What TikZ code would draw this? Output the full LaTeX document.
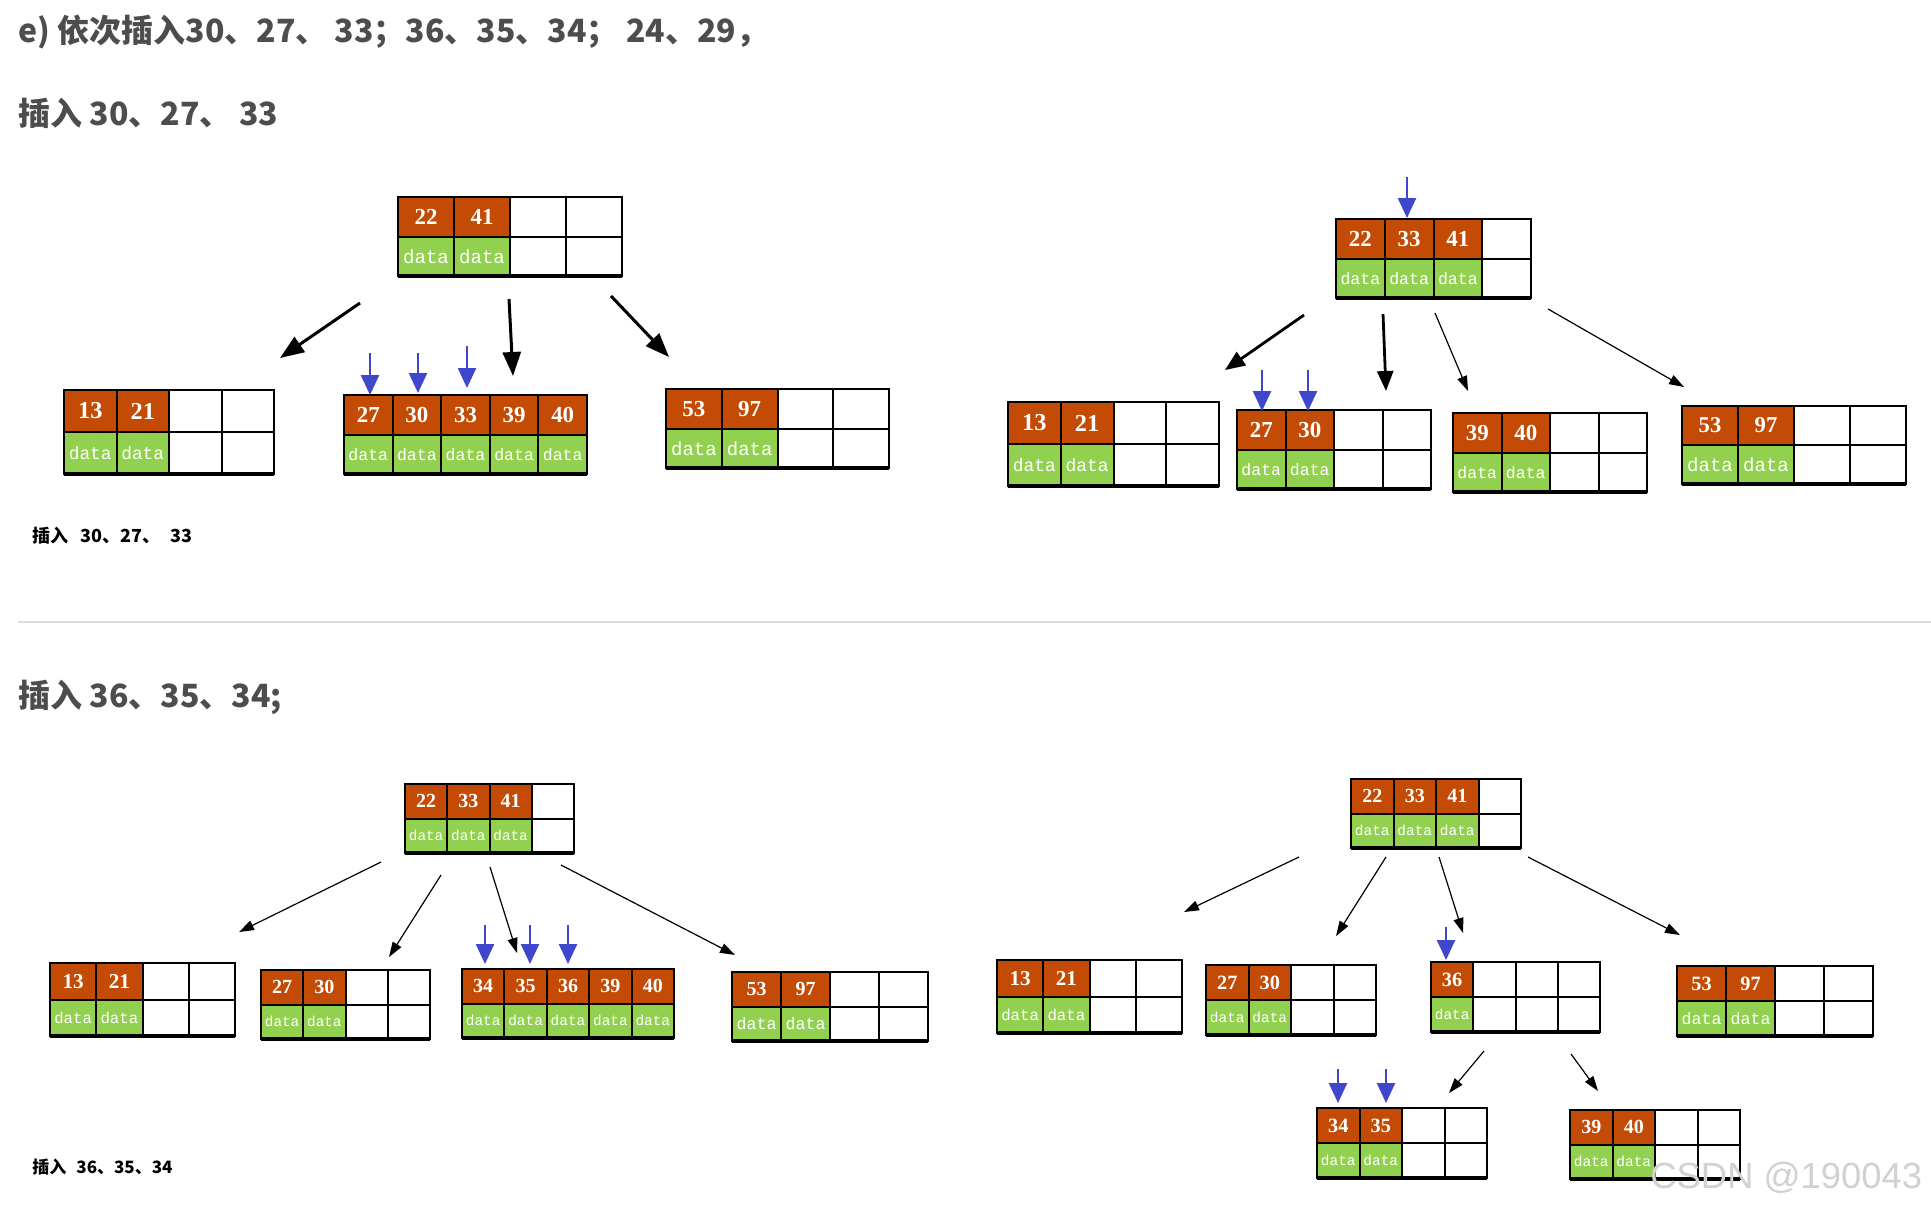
\documentclass[tikz,border=0pt]{standalone}
\usepackage{fontspec}
\usetikzlibrary{arrows.meta}
\newfontfamily\cjk{Noto Sans CJK SC}
\newfontfamily\keyfont{Liberation Serif}
\newfontfamily\datafont{Liberation Mono}
\newfontfamily\wmfont{Liberation Sans}
\definecolor{korange}{RGB}{195,75,5}
\definecolor{kgreen}{RGB}{146,208,80}
\definecolor{kblue}{RGB}{63,72,204}
\definecolor{headgray}{RGB}{77,77,77}
\tikzset{
  boxline/.style={draw, line width=1pt, inner sep=0pt, outer sep=0pt},
  cellline/.style={line width=1pt},
  keytxt/.style={text=white, inner sep=0pt},
  datatxt/.style={text=white, inner sep=0pt},
  bigarrow/.style={line width=1.5pt, -{Triangle[length=12pt,width=9pt]}},
  medarrow/.style={line width=1.4pt, -{Triangle[length=10pt,width=8pt]}},
  thinarrow/.style={line width=0.6pt, -{Triangle[length=7.5pt,width=5pt]}},
  bluearrow/.style={kblue, line width=1.2pt, -{Triangle[length=10pt,width=9pt]}},
  head/.style={font=\cjk\bfseries\fontsize{16}{16}\selectfont, text=headgray, inner sep=0pt},
  smalllabel/.style={font=\cjk\bfseries\fontsize{9}{9}\selectfont, text=black, inner sep=0pt},
}
% #1 name, #2 x left, #3 y top, #4 cell width, #5 row height, #6 columns, #7 keys
\newcommand\btnode[7]{%
  \pgfmathsetmacro\kfs{0.29*#5}%
  \pgfmathsetmacro\dfs{0.17*#4}%
  \foreach \k [count=\i from 0] in {#7} {%
    \fill[korange] ({#2+\i*#4},#3) rectangle ++(#4,#5);
    \fill[kgreen] ({#2+\i*#4},{#3+#5}) rectangle ++(#4,#5);
    \node[keytxt, font={\keyfont\bfseries\fontsize{\kfs}{\kfs}\selectfont}] (#1-k\i) at ({#2+(\i+0.5)*#4},{#3+0.5*#5}) {\k};
    \node[datatxt, font={\datafont\fontsize{\dfs}{\dfs}\selectfont}] (#1-d\i) at ({#2+(\i+0.5)*#4},{#3+1.5*#5}) {data};
  }%
  \foreach \j in {1,...,#6} \draw[cellline] ({#2+\j*#4},#3) -- ++(0,{2*#5});
  \draw[cellline] (#2,{#3+#5}) -- ++({#6*#4},0);
  \node[boxline, minimum width={#6*#4*0.5pt}, minimum height={#5*1pt}, anchor=north west] (#1) at (#2,#3) {};
  \draw[line width=2pt] (#1.south west) -- (#1.south east);
}
% #1 style, #2 name, #3 #4 start, #5 #6 end
\newcommand\arr[6]{%
  \coordinate (#2-s) at (#3,#4);
  \coordinate (#2-e) at (#5,#6);
  \draw[#1] (#2-s) -- (#2-e);
}
\begin{document}
\begin{tikzpicture}[x=0.5pt, y=-0.5pt]
\fill[white] (0,0) rectangle (1931,1207);
\useasboundingbox (0,0) rectangle (1931,1207);

% headings
\node[head, anchor=base west] (t1) at (18,42) {e) 依次插入30、27、 33；36、35、34； 24、29，};
\node[head, anchor=base west] (t2) at (18,125) {插入 30、27、 33};
\node[head, anchor=base west] (t3) at (18,707) {插入 36、35、34;};

% ---------- section 1, left ----------
\btnode{aR}{398}{197}{56}{39.5}{4}{22,41}
\btnode{aL1}{64}{390}{52.5}{42}{4}{13,21}
\btnode{aL2}{344}{395}{48.6}{39.5}{5}{27,30,33,39,40}
\btnode{aL3}{666}{389}{55.75}{39.5}{4}{53,97}
\arr{bigarrow}{aA1}{360}{303}{280}{358}
\arr{bigarrow}{aA2}{509}{299}{513}{376}
\arr{bigarrow}{aA3}{611}{296}{669}{357}
\arr{bluearrow}{aB1}{370}{353}{370}{395}
\arr{bluearrow}{aB2}{418}{353}{418}{393}
\arr{bluearrow}{aB3}{467}{346}{467}{388}
\node[smalllabel, anchor=base west] (lab1) at (32,542) {插入\hspace{6pt}30、27、\hspace{5pt}33};

% ---------- section 1, right ----------
\btnode{bR}{1336}{219}{48.75}{39.5}{4}{22,33,41}
\btnode{bL1}{1008}{402}{52.75}{42}{4}{13,21}
\btnode{bL2}{1237}{410}{48.5}{39.5}{4}{27,30}
\btnode{bL3}{1453}{413}{48.5}{39.5}{4}{39,40}
\btnode{bL4}{1682}{406}{56}{39}{4}{53,97}
\arr{bluearrow}{bB1}{1407}{177}{1407}{218}
\arr{bluearrow}{bB2}{1262}{370}{1262}{411}
\arr{bluearrow}{bB3}{1308}{370}{1308}{411}
\arr{medarrow}{bA1}{1304}{315}{1225}{370}
\arr{medarrow}{bA2}{1383}{314}{1386}{391}
\arr{thinarrow}{bA3}{1435}{313}{1468}{391}
\arr{thinarrow}{bA4}{1548}{309}{1684}{387}

% separator
\coordinate (sepL) at (18,622);
\coordinate (sepR) at (1931,622);
\draw[black!14, line width=1pt] (sepL) -- (sepR);

% ---------- section 2, left ----------
\btnode{cR}{405}{784}{42.25}{34.5}{4}{22,33,41}
\btnode{cL1}{50}{963}{46.25}{36.5}{4}{13,21}
\btnode{cL2}{261}{970}{42.25}{34.5}{4}{27,30}
\btnode{cL3}{462}{969}{42.4}{34.5}{5}{34,35,36,39,40}
\btnode{cL4}{732}{972}{49}{34.5}{4}{53,97}
\arr{thinarrow}{cA1}{381}{862}{239}{932}
\arr{thinarrow}{cA2}{441}{875}{389}{957}
\arr{thinarrow}{cA3}{490}{867}{517}{953}
\arr{thinarrow}{cA4}{561}{865}{735}{955}
\arr{bluearrow}{cB1}{485}{925}{485}{964}
\arr{bluearrow}{cB2}{530}{925}{530}{964}
\arr{bluearrow}{cB3}{568}{925}{568}{964}
\node[smalllabel, font=\cjk\bfseries\fontsize{8.5}{8.5}\selectfont, anchor=base west] (lab2) at (32,1173) {插入\hspace{5pt}36、35、34};

% ---------- section 2, right ----------
\btnode{dR}{1351}{779}{42.5}{34.5}{4}{22,33,41}
\btnode{dL1}{997}{960}{46.25}{36.5}{4}{13,21}
\btnode{dL2}{1206}{965}{42.5}{35}{4}{27,30}
\btnode{dL3}{1431}{962}{42.25}{35}{4}{36}
\btnode{dL4}{1677}{966}{49}{35}{4}{53,97}
\btnode{dM1}{1317}{1108}{42.5}{35}{4}{34,35}
\btnode{dM2}{1570}{1110}{42.5}{34.5}{4}{39,40}
\arr{thinarrow}{dA1}{1299}{857}{1184}{912}
\arr{thinarrow}{dA2}{1386}{857}{1336}{936}
\arr{thinarrow}{dA3}{1439}{857}{1463}{933}
\arr{thinarrow}{dA4}{1528}{857}{1680}{935}
\arr{thinarrow}{dA5}{1484}{1051}{1449}{1093}
\arr{thinarrow}{dA6}{1571}{1054}{1598}{1091}
\arr{bluearrow}{dB1}{1446}{927}{1446}{960}
\arr{bluearrow}{dB2}{1338}{1069}{1338}{1103}
\arr{bluearrow}{dB3}{1386}{1069}{1386}{1103}

% watermark
\node[font=\wmfont\fontsize{18.2}{18.2}\selectfont, text=black!18, inner sep=0pt, anchor=base west] (wm) at (1650,1188) {CSDN @190043};
\end{tikzpicture}
\end{document}
